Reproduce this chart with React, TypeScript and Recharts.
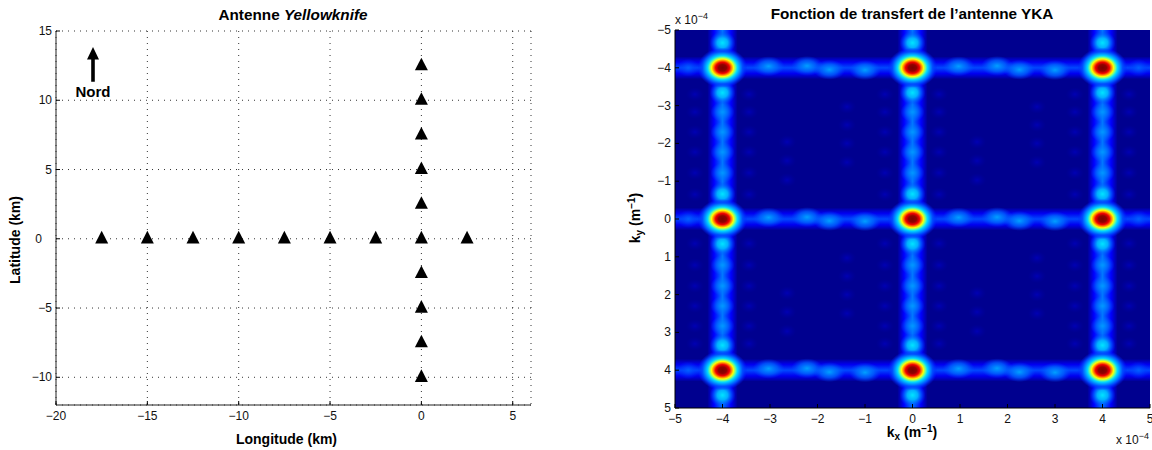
import { ScatterChart, Scatter, XAxis, YAxis, CartesianGrid, ReferenceArea } from 'recharts';

// left plot: antenna stations (km)
const armWestLon = [-17.5, -15, -12.5, -10, -7.5, -5, -2.5, 0, 2.5];
const armNorthLat = [12.5, 10, 7.5, 5, 2.5, -2.5, -5, -7.5, -10];
const lonTicks = [-20, -15, -10, -5, 0, 5];
const latTicks = [-10, -5, 0, 5, 10, 15];

// right plot: transfer function features (units of 1e-4 1/m)
const kTicks = [-5, -4, -3, -2, -1, 0, 1, 2, 3, 4, 5];
const peakK = [-4, 0, 4];
const brightLobeOffsets = [-0.66, 0.66];
const midLobeOffsets = [1.22, 1.77, 2.3, 2.83];
const hLobeKx = [0.97, 1.78, 2.25, 3.0];
const hLobeKy = [-0.04, -0.05, 0.05, 0.06];
const sideColumnOffsets = [-0.58, 0.56];
const sideColumnKy = [-3.3, -2.83, -2.3, -1.77, -1.22, -0.65, 0.65, 1.22, 1.77, 2.3, 2.83, 3.3];
const cellOrigins = [-4, 0];
const faintKx = [1.36, 1.36, 1.36, 2.62, 2.62, 2.62, 2.62];
const faintKy = [1.96, 2.46, 2.97, 1.03, 1.51, 2.0, 2.5];

const stations = [
  ...armWestLon.map((x) => ({ x, y: 0 })),
  ...armNorthLat.map((y) => ({ x: 0, y })),
];

const peaks = peakK.flatMap((x) => peakK.map((y) => ({ x, y })));

const brightLobes = peakK
  .flatMap((x) => peakK.flatMap((y) => brightLobeOffsets.map((d) => ({ x, y: y + d }))))
  .filter((p) => Math.abs(p.y) < 5);
const midLobes = peakK.flatMap((x) => midLobeOffsets.flatMap((d) => [{ x, y: -d }, { x, y: d }]));
const edgeLobes = peakK.flatMap((y) => [{ x: -4.72, y }, { x: 4.76, y }]);
const rowLobes = cellOrigins.flatMap((c) =>
  peakK.flatMap((y) => hLobeKx.map((dx, i) => ({ x: c + dx, y: y + hLobeKy[i] }))),
);
const faintLobes = [
  ...peakK
    .flatMap((c) => sideColumnOffsets.flatMap((dx) => sideColumnKy.map((y) => ({ x: c + dx, y }))))
    .filter((p) => Math.abs(p.x) < 5),
  ...cellOrigins.flatMap((cx) =>
    cellOrigins.flatMap((cy) => faintKx.map((dx, i) => ({ x: cx + dx, y: cy + faintKy[i] }))),
  ),
];

const FONT = '"Liberation Sans", Arial, sans-serif';
const INK = '#111';

const fmt = (v: number) => (v < 0 ? `\u2212${-v}` : `${v}`);

function BottomTick({ x, y, payload, offset }: any) {
  return (
    <g>
      <line x1={x} x2={x} y1={y} y2={y - 4} stroke="#000" />
      <text x={x} y={y + offset} textAnchor="middle" fontFamily={FONT} fontSize={12} fill={INK}>
        {fmt(payload.value)}
      </text>
    </g>
  );
}

// zeroShift: the latitude axis of the source has its 0 label set further left
function LeftTick({ x, y, payload, zeroShift = 0 }: any) {
  const pad = payload.value === 0 ? 4 + zeroShift : 4;
  return (
    <g>
      <line x1={x} x2={x + 4} y1={y} y2={y} stroke="#000" />
      <text x={x - pad} y={y + 4} textAnchor="end" fontFamily={FONT} fontSize={12} fill={INK}>
        {fmt(payload.value)}
      </text>
    </g>
  );
}

function TopTick({ x, y }: any) {
  return <line x1={x} x2={x} y1={y} y2={y + 4} stroke="#000" />;
}

function RightTick({ x, y }: any) {
  return <line x1={x} x2={x - 4} y1={y} y2={y} stroke="#000" />;
}

function Triangle({ cx, cy }: any) {
  return <polygon points={`${cx},${cy - 8} ${cx + 6.5},${cy + 4.6} ${cx - 6.5},${cy + 4.6}`} fill="#000" />;
}

const blob = (rx: number, ry: number, fill: string) =>
  function Blob({ cx, cy }: any) {
    return <ellipse cx={cx} cy={cy} rx={rx} ry={ry} fill={`url(#${fill})`} />;
  };

function YellowknifeChart() {
  return (
    <ScatterChart width={576} height={450} margin={{ top: 31, right: 45, bottom: 0, left: 0 }}>
      <CartesianGrid stroke="#333" strokeDasharray="1 5" />
      <XAxis
        type="number"
        dataKey="x"
        domain={[-20, 6]}
        ticks={lonTicks}
        interval={0}
        height={45}
        tickSize={0}
        tickMargin={0}
        tickLine={false}
        stroke="#222"
        tick={<BottomTick offset={15} />}
      />
      <YAxis
        type="number"
        dataKey="y"
        domain={[-12, 15]}
        ticks={latTicks}
        interval={0}
        width={56}
        tickSize={0}
        tickMargin={0}
        tickLine={false}
        stroke="#222"
        tick={<LeftTick zeroShift={10} />}
      />
      <Scatter data={stations} shape={<Triangle />} isAnimationActive={false} />
      <path d="M93 47 L99 59.5 L94.8 59.5 L94.8 81.7 L91.2 81.7 L91.2 59.5 L87 59.5 Z" fill="#000" />
      <text x={93} y={97} textAnchor="middle" fontFamily={FONT} fontSize={15} fontWeight="bold" fill="#000">
        Nord
      </text>
      <text x={293} y={20} textAnchor="middle" fontFamily={FONT} fontSize={15.3} fontWeight="bold" fill="#000">
        Antenne <tspan fontStyle="italic">Yellowknife</tspan>
      </text>
      <text x={286.5} y={444} textAnchor="middle" fontFamily={FONT} fontSize={14} fontWeight="bold" fill="#000">
        Longitude (km)
      </text>
      <text x={19.5} y={240} transform="rotate(-90 19.5 240)" textAnchor="middle" fontFamily={FONT} fontSize={14} fontWeight="bold" fill="#000">
        Latitude (km)
      </text>
    </ScatterChart>
  );
}

function TransferChart() {
  return (
    <ScatterChart width={552} height={450} margin={{ top: 30, right: 2, bottom: 0, left: 0 }}>
      <defs>
        <radialGradient id="peakFill">
          <stop offset="0" stopColor="#7a0000" />
          <stop offset="0.16" stopColor="#900000" />
          <stop offset="0.28" stopColor="#f00000" />
          <stop offset="0.36" stopColor="#ff8000" />
          <stop offset="0.44" stopColor="#ffff00" />
          <stop offset="0.52" stopColor="#70ff90" />
          <stop offset="0.6" stopColor="#00d8ff" />
          <stop offset="0.8" stopColor="#0050ff" />
          <stop offset="1" stopColor="#0020ff" stopOpacity="0" />
        </radialGradient>
        <radialGradient id="brightFill">
          <stop offset="0" stopColor="#00e4ff" />
          <stop offset="0.4" stopColor="#00b0ff" />
          <stop offset="0.7" stopColor="#0070ff" stopOpacity="0.6" />
          <stop offset="1" stopColor="#0040ff" stopOpacity="0" />
        </radialGradient>
        <radialGradient id="midFill">
          <stop offset="0" stopColor="#0098ff" />
          <stop offset="0.5" stopColor="#0080ff" stopOpacity="0.6" />
          <stop offset="1" stopColor="#0070ff" stopOpacity="0" />
        </radialGradient>
        <radialGradient id="edgeFill">
          <stop offset="0" stopColor="#0060ff" />
          <stop offset="1" stopColor="#0030ff" stopOpacity="0" />
        </radialGradient>
        <radialGradient id="rowFill">
          <stop offset="0" stopColor="#00a0ff" />
          <stop offset="0.55" stopColor="#0070ff" stopOpacity="0.7" />
          <stop offset="1" stopColor="#0050ff" stopOpacity="0" />
        </radialGradient>
        <radialGradient id="faintFill">
          <stop offset="0" stopColor="#0000b4" />
          <stop offset="1" stopColor="#0000a0" stopOpacity="0" />
        </radialGradient>
        <linearGradient id="colFill" x1="0" x2="1" y1="0" y2="0">
          <stop offset="0" stopColor="#0000ff" stopOpacity="0" />
          <stop offset="0.22" stopColor="#0000ff" />
          <stop offset="0.5" stopColor="#0078ff" />
          <stop offset="0.78" stopColor="#0000ff" />
          <stop offset="1" stopColor="#0000ff" stopOpacity="0" />
        </linearGradient>
        <linearGradient id="rowBand" x1="0" x2="0" y1="0" y2="1">
          <stop offset="0" stopColor="#0000ff" stopOpacity="0" />
          <stop offset="0.25" stopColor="#0000f0" />
          <stop offset="0.5" stopColor="#0048ff" />
          <stop offset="0.75" stopColor="#0000f0" />
          <stop offset="1" stopColor="#0000ff" stopOpacity="0" />
        </linearGradient>
      </defs>
      <CartesianGrid fill="#00008f" fillOpacity={1} horizontal={false} vertical={false} />
      {peakK.map((k) => (
        <ReferenceArea key={`c${k}`} x1={k - 0.32} x2={k + 0.32} y1={-5} y2={5} fill="url(#colFill)" fillOpacity={1} stroke="none" />
      ))}
      {peakK.map((k) => (
        <ReferenceArea key={`r${k}`} x1={-5} x2={5} y1={k - 0.3} y2={k + 0.3} fill="url(#rowBand)" fillOpacity={1} stroke="none" />
      ))}
      <XAxis
        type="number"
        dataKey="x"
        domain={[-5, 5]}
        ticks={kTicks}
        interval={0}
        height={42}
        allowDataOverflow
        tickSize={0}
        tickMargin={0}
        tickLine={false}
        stroke="#000"
        tick={<BottomTick offset={15} />}
      />
      <XAxis
        xAxisId="top"
        orientation="top"
        type="number"
        dataKey="x"
        domain={[-5, 5]}
        ticks={kTicks}
        interval={0}
        height={0}
        tickSize={0}
        tickMargin={0}
        tickLine={false}
        stroke="#000"
        tick={<TopTick />}
      />
      <YAxis
        type="number"
        dataKey="y"
        domain={[-5, 5]}
        reversed
        ticks={kTicks}
        interval={0}
        width={75}
        allowDataOverflow
        tickSize={0}
        tickMargin={0}
        tickLine={false}
        stroke="#000"
        tick={<LeftTick />}
      />
      <YAxis
        yAxisId="right"
        orientation="right"
        type="number"
        dataKey="y"
        domain={[-5, 5]}
        reversed
        ticks={kTicks}
        interval={0}
        width={0}
        tickSize={0}
        tickMargin={0}
        tickLine={false}
        stroke="#000"
        tick={<RightTick />}
      />
      <Scatter data={faintLobes} shape={blob(9, 7, 'faintFill')} isAnimationActive={false} />
      <Scatter data={midLobes} shape={blob(12, 10, 'midFill')} isAnimationActive={false} />
      <Scatter data={edgeLobes} shape={blob(11, 9, 'edgeFill')} isAnimationActive={false} />
      <Scatter data={rowLobes} shape={blob(16, 10, 'rowFill')} isAnimationActive={false} />
      <Scatter data={brightLobes} shape={blob(13, 12, 'brightFill')} isAnimationActive={false} />
      <Scatter data={peaks} shape={blob(25, 20, 'peakFill')} isAnimationActive={false} />
      <text x={75} y={24} fontFamily={FONT} fontSize={12} fill={INK}>
        x 10<tspan fontSize={9} dy={-5}>{'\u2212'}4</tspan>
      </text>
      <text x={516} y={444} fontFamily={FONT} fontSize={12} fill={INK}>
        x 10<tspan fontSize={9} dy={-5}>{'\u2212'}4</tspan>
      </text>
      <text x={312} y={19} textAnchor="middle" fontFamily={FONT} fontSize={15.3} fontWeight="bold" fill="#000">
        Fonction de transfert de l{'\u2019'}antenne YKA
      </text>
      <text x={312} y={437} textAnchor="middle" fontFamily={FONT} fontSize={14} fontWeight="bold" fill="#000">
        k<tspan fontSize={10} dy={3}>x</tspan>
        <tspan dy={-3}> (m</tspan>
        <tspan fontSize={10} dy={-5}>{'\u2212'}1</tspan>
        <tspan dy={5}>)</tspan>
      </text>
      <text x={40} y={218} transform="rotate(-90 40 218)" textAnchor="middle" fontFamily={FONT} fontSize={14} fontWeight="bold" fill="#000">
        k<tspan fontSize={10} dy={3}>y</tspan>
        <tspan dy={-3}> (m</tspan>
        <tspan fontSize={10} dy={-5}>{'\u2212'}1</tspan>
        <tspan dy={5}>)</tspan>
      </text>
    </ScatterChart>
  );
}

export default function App() {
  return (
    <div style={{ position: 'absolute', left: 0, top: 0, width: 1152, height: 450, background: '#fff' }}>
      <div style={{ position: 'absolute', left: 0, top: 0 }}>
        <YellowknifeChart />
      </div>
      <div style={{ position: 'absolute', left: 600, top: 0 }}>
        <TransferChart />
      </div>
    </div>
  );
}
